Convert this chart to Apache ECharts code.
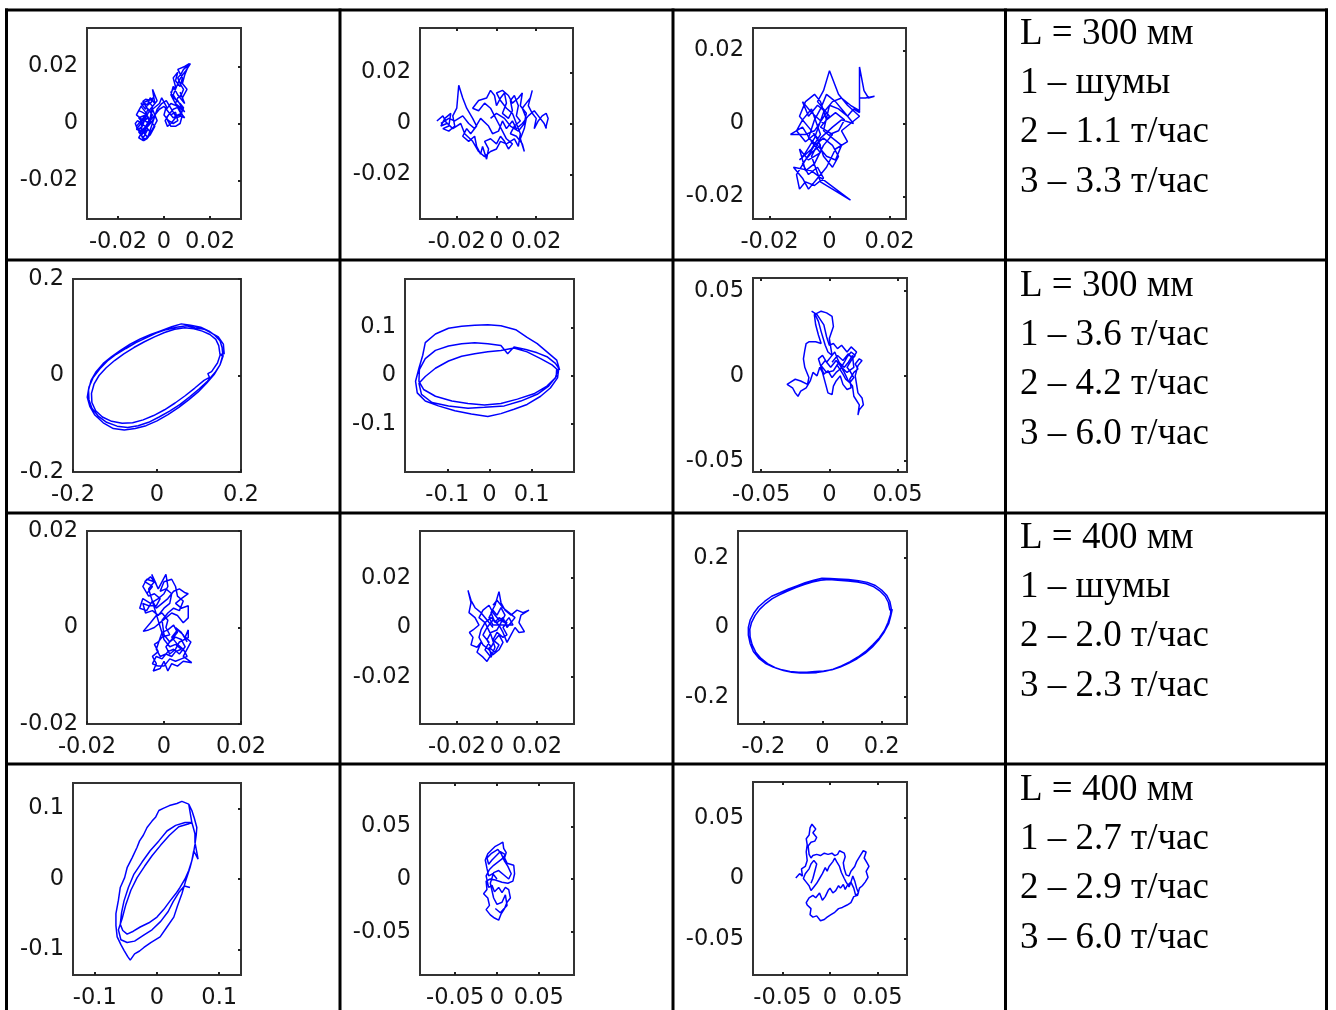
<!DOCTYPE html>
<html>
<head>
<meta charset="utf-8">
<script src="https://cdn.jsdelivr.net/npm/echarts@6/dist/echarts.min.js"></script>
<style>
html,body{margin:0;padding:0;background:#fff;}
#chart{width:1336px;height:1010px;}
</style>
</head>
<body>
<div id="chart"></div>
<script>
// ---- phase-plane trajectories (x, y) for each cell of the table ----

// L = 300 mm, noise
const r1c1 = [[-0.009,0],[-0.011,0.002],[-0.008,0.003],[-0.012,-0.001],[-0.010,-0.004],[-0.007,-0.002],[-0.009,-0.005],[-0.011,-0.003],[-0.006,0],[-0.008,0.004],[-0.010,0.006],[-0.012,0.003],[-0.009,0.001],[-0.007,0.005],[-0.005,0.003],[-0.008,-0.001],[-0.011,-0.005],[-0.009,-0.006],[-0.006,-0.004],[-0.004,-0.001],[-0.007,0.002],[-0.010,0],[-0.012,-0.002],[-0.009,-0.003],[-0.006,0.002],[-0.005,0.006],[-0.007,0.008],[-0.010,0.007],[-0.008,0.005],[-0.006,0.009],[-0.004,0.007],[-0.005,0.012],[-0.003,0.008],[-0.006,0.005],[-0.008,0.002],[-0.010,-0.002],[-0.007,-0.005],[-0.005,-0.002],[-0.003,0.001],[-0.005,0.005],[-0.002,0.007],[-0.001,0.009],[0.001,0.006],[0,0.003],[0.002,0.001],[0.004,0],[0.006,0.001],[0.005,0.004],[0.003,0.003],[0.001,0.005],[0.003,0.007],[0.006,0.006],[0.008,0.003],[0.007,0],[0.005,-0.001],[0.003,-0.001],[0.001,0.002],[0.004,0.005],[0.007,0.006],[0.009,0.004],[0.006,0.008],[0.004,0.009],[0.003,0.011],[0.005,0.013],[0.004,0.016],[0.006,0.018],[0.005,0.015],[0.007,0.013],[0.008,0.016],[0.006,0.019],[0.009,0.020],[0.011,0.021],[0.009,0.017],[0.008,0.014],[0.010,0.012],[0.008,0.009],[0.007,0.011],[0.009,0.007],[0.006,0.010],[0.004,0.013],[0.003,0.010],[0.005,0.007],[0.007,0.004],[0.009,0.002],[0.006,0.003],[0.004,0.002],[0.002,0.004],[0,0.006],[-0.002,0.005],[-0.004,0.003],[-0.006,0.001],
  [-0.0075,0.0005],[-0.0090,0.0015],[-0.0105,0.0005],[-0.0095,-0.0010],[-0.0110,-0.0020],[-0.0100,-0.0035],[-0.0085,-0.0025],[-0.0080,-0.0040],[-0.0095,-0.0050],[-0.0080,-0.0055],[-0.0070,-0.0045],[-0.0060,-0.0030],[-0.0075,-0.0015],[-0.0090,-0.0005],[-0.0115,0.0010],[-0.0125,0.0000],[-0.0118,-0.0015],[-0.0105,-0.0025],[-0.0090,-0.0030],[-0.0072,-0.0010],[-0.0060,0.0010],[-0.0075,0.0030],[-0.0095,0.0040],[-0.0110,0.0045],[-0.0100,0.0060],[-0.0085,0.0070],[-0.0070,0.0065],[-0.0055,0.0075],[-0.0048,0.0090],[-0.0060,0.0082],[-0.0080,0.0085],[-0.0092,0.0078],[-0.0078,0.0058],[-0.0062,0.0045],[-0.0045,0.0040],[-0.0038,0.0025],[-0.0050,0.0010],[-0.0065,-0.0005],[-0.0082,-0.0020],[-0.0098,-0.0042],[-0.0088,-0.0060],[-0.0072,-0.0052],
  [-0.0030,0.0050],[-0.0010,0.0070],[0.0010,0.0080],[0.0025,0.0060],[0.0040,0.0040],[0.0055,0.0020],[0.0070,0.0025],[0.0080,0.0045],[0.0065,0.0060],[0.0050,0.0070],[0.0060,0.0090],[0.0075,0.0100],[0.0085,0.0120],[0.0070,0.0140],[0.0060,0.0160],[0.0075,0.0175],[0.0085,0.0190],[0.0100,0.0200],[0.0115,0.0210],[0.0095,0.0185],[0.0080,0.0170],[0.0065,0.0150],[0.0050,0.0120],[0.0040,0.0100],[0.0055,0.0080],[0.0070,0.0070],[0.0085,0.0055],[0.0075,0.0035],[0.0060,0.0030],[0.0045,0.0015],[0.0030,0.0000],[0.0015,-0.0010],[0.0005,0.0010],[0.0020,0.0030]];

// L = 300 mm, 1.1 t/h
const r1c2 = [[-0.030,0.001],[-0.027,0.003],[-0.025,0],[-0.028,-0.001],[-0.026,0.002],[-0.023,0.004],[-0.024,-0.001],[-0.027,-0.002],[-0.024,-0.003],[-0.021,-0.001],[-0.022,0.003],[-0.020,0.006],[-0.019,0.015],[-0.017,0.010],[-0.015,0.006],[-0.012,0.002],[-0.010,-0.001],[-0.013,-0.004],[-0.015,-0.002],[-0.017,-0.005],[-0.014,-0.007],[-0.011,-0.005],[-0.010,-0.009],[-0.008,-0.012],[-0.007,-0.009],[-0.005,-0.014],[-0.004,-0.010],[-0.006,-0.007],[-0.003,-0.006],[0,-0.008],[0.002,-0.005],[0.004,-0.007],[0.006,-0.010],[0.008,-0.008],[0.005,-0.006],[0.003,-0.003],[0.001,0],[-0.001,0.003],[-0.003,0.006],[-0.006,0.008],[-0.009,0.005],[-0.012,0.006],[-0.009,0.009],[-0.005,0.010],[-0.003,0.013],[-0.001,0.011],[0,0.007],[0.002,0.010],[0.004,0.012],[0.005,0.008],[0.003,0.004],[0.006,0.002],[0.008,0.005],[0.007,0.009],[0.009,0.011],[0.011,0.007],[0.010,0.003],[0.012,0.001],[0.009,-0.001],[0.007,-0.004],[0.010,-0.005],[0.013,-0.008],[0.014,-0.011],[0.012,-0.006],[0.014,-0.002],[0.015,0.002],[0.013,0.006],[0.015,0.008],[0.017,0.010],[0.018,0.013],[0.016,0.007],[0.018,0.004],[0.020,0.002],[0.019,-0.002],[0.021,0.001],[0.023,0.003],[0.025,0.004],[0.026,0.002],[0.025,-0.001],[0.025,-0.002],[0.024,0],[0.022,0.002],[0.019,0.005],[0.016,0.003],[0.013,0],[0.010,-0.002],[0.008,0.001],[0.005,-0.002],[0.003,0.001],[0.001,-0.003],[-0.002,-0.004],[-0.004,-0.001],[-0.008,0.002],[-0.011,-0.002],[-0.014,0],[-0.017,0.003],[-0.021,0.001],[-0.024,0.002],[-0.028,0],
  [-0.026,0.001],[-0.022,-0.002],[-0.018,0],[-0.016,-0.004],[-0.012,-0.007],[-0.009,-0.011],[-0.006,-0.013],[-0.003,-0.011],[0.000,-0.010],[0.002,-0.007],[0.005,-0.008],[0.009,-0.006],[0.011,-0.009],[0.012,-0.004],[0.010,0.000],[0.008,0.004],[0.005,0.006],[0.002,0.009],[0.000,0.012],[0.003,0.013],[0.006,0.011],[0.008,0.008],[0.011,0.010],[0.013,0.012],[0.012,0.007],[0.015,0.004],[0.014,0.000],[0.011,-0.003],[0.007,-0.001],[0.004,0.002],[0.000,0.004],[-0.003,0.002]];

// L = 300 mm, 3.3 t/h
const r1c3 = [[-0.002,0],[-0.006,0.003],[-0.009,0.006],[-0.007,0.002],[-0.004,0.005],[-0.001,0.003],[-0.005,-0.002],[-0.008,-0.003],[-0.013,-0.003],[-0.009,-0.001],[-0.006,-0.005],[-0.003,-0.008],[-0.007,-0.010],[-0.010,-0.007],[-0.008,-0.013],[-0.005,-0.011],[-0.002,-0.006],[0.001,-0.003],[-0.003,-0.001],[0,0.002],[-0.004,0.006],[-0.002,0.009],[0,0.0145],[0.003,0.008],[0.006,0.005],[0.010,0.002],[0.007,0],[0.004,-0.002],[0.006,-0.005],[0.002,-0.007],[-0.001,-0.012],[-0.004,-0.015],[-0.007,-0.018],[-0.009,-0.015],[-0.012,-0.012],[-0.006,-0.013],[0.007,-0.021],[-0.003,-0.016],[-0.006,-0.009],[-0.003,-0.004],[0.001,-0.001],[0.004,0.001],[0.008,0],[0.005,0.003],[0.002,0.006],[-0.001,0.008],[-0.003,0.004],[-0.005,0.001],[-0.007,-0.004],[-0.004,-0.006],[-0.001,-0.009],[0.002,-0.010],[0.004,-0.006],[0.001,-0.004],[-0.002,-0.002],[0,0.005],[0.003,0.004],[0.006,0.002],[0.008,0.004],[0.010,0.003],[0.010,0.0155],[0.0115,0.009],[0.013,0.007],[0.015,0.0075],[0.012,0.007],[0.010,0.007],[0.010,0.0035],[0.007,0.005],[0.004,0.007],[0.001,0.006],[-0.002,0.003],[-0.005,-0.004],[-0.008,-0.008],[-0.010,-0.010],[-0.006,-0.007],[-0.003,-0.003],
  [-0.006,0.004],[-0.009,0.001],[-0.011,-0.002],[-0.008,-0.005],[-0.005,-0.003],[-0.003,-0.006],[-0.006,-0.008],[-0.009,-0.011],[-0.007,-0.014],[-0.004,-0.012],[-0.002,-0.015],[-0.005,-0.017],[-0.008,-0.016],[-0.010,-0.018],[-0.011,-0.014],[-0.008,-0.010],[-0.005,-0.006],[-0.002,-0.004],[0.001,-0.006],[0.003,-0.009],[0.001,-0.012],[-0.002,-0.009],[-0.004,-0.004],[-0.007,-0.001],[-0.010,0.002],[-0.008,0.006],[-0.005,0.008],[-0.003,0.006],[-0.001,0.001],[0.002,0.003],[0.005,0.001],[0.003,-0.002],[0,-0.003]];

// L = 300 mm, 3.6 t/h
const r2c1 = [[0.157,0.040],[0.155,0.058],[0.150,0.072],[0.138,0.083],[0.124,0.092],[0.104,0.100],[0.080,0.104],[0.058,0.107],[0.035,0.101],[0.010,0.093],[-0.015,0.085],[-0.040,0.076],[-0.064,0.065],[-0.087,0.052],[-0.108,0.039],[-0.128,0.025],[-0.145,0.008],[-0.157,-0.010],[-0.163,-0.030],[-0.162,-0.050],[-0.155,-0.068],[-0.140,-0.084],[-0.120,-0.097],[-0.095,-0.105],[-0.070,-0.108],[-0.045,-0.104],[-0.020,-0.097],[0.005,-0.086],[0.030,-0.074],[0.055,-0.060],[0.078,-0.044],[0.100,-0.028],[0.120,-0.012],[0.138,0.006],[0.150,0.022],[0.156,0.040],
  [0.150,0.044],[0.147,0.062],[0.140,0.075],[0.126,0.085],[0.108,0.092],[0.088,0.097],[0.066,0.099],[0.042,0.096],[0.018,0.089],[-0.006,0.080],[-0.030,0.070],[-0.055,0.058],[-0.079,0.045],[-0.101,0.031],[-0.121,0.016],[-0.138,0.000],[-0.150,-0.018],[-0.156,-0.037],[-0.155,-0.056],[-0.146,-0.073],[-0.130,-0.086],[-0.108,-0.095],[-0.083,-0.099],[-0.058,-0.098],[-0.033,-0.092],[-0.008,-0.083],[0.018,-0.071],[0.043,-0.057],[0.067,-0.042],[0.090,-0.026],[0.112,-0.010],[0.125,-0.004],[0.121,0.004],[0.130,0.008],[0.144,0.026],[0.151,0.044],
  [0.160,0.045],[0.158,0.065],[0.146,0.080],[0.130,0.088],[0.112,0.096],[0.090,0.099],[0.070,0.103],[0.046,0.100],[0.022,0.095],[-0.002,0.088],[-0.026,0.078],[-0.050,0.068],[-0.074,0.056],[-0.097,0.044],[-0.118,0.030],[-0.136,0.014],[-0.152,-0.004],[-0.162,-0.024],[-0.166,-0.045],[-0.160,-0.064],[-0.148,-0.082],[-0.128,-0.098],[-0.104,-0.110],[-0.078,-0.113],[-0.052,-0.110],[-0.026,-0.104],[0.000,-0.094],[0.026,-0.081],[0.052,-0.066],[0.076,-0.050],[0.098,-0.034],[0.118,-0.016],[0.136,0.002],[0.150,0.022],[0.158,0.042]];

// L = 300 mm, 4.2 t/h
const r2c2 = [[0.166,0.0115],[0.159,0.032],[0.136,0.049],[0.113,0.066],[0.089,0.079],[0.062,0.095],[0.027,0.103],[-0.004,0.105],[-0.035,0.104],[-0.066,0.102],[-0.097,0.098],[-0.128,0.086],[-0.152,0.068],[-0.158,0.042],[-0.167,0.015],[-0.175,-0.012],[-0.171,-0.036],[-0.152,-0.053],[-0.121,-0.063],[-0.082,-0.073],[-0.043,-0.080],[-0.004,-0.085],[0.027,-0.079],[0.058,-0.070],[0.089,-0.060],[0.121,-0.043],[0.144,-0.026],[0.161,-0.005],[0.164,0.015],
  [0.156,0.025],[0.136,0.039],[0.113,0.047],[0.086,0.054],[0.058,0.059],[0.043,0.045],[0.027,0.062],[-0.004,0.066],[-0.035,0.068],[-0.066,0.066],[-0.097,0.061],[-0.128,0.052],[-0.152,0.035],[-0.166,0.012],[-0.167,-0.012],[-0.156,-0.029],[-0.128,-0.043],[-0.089,-0.053],[-0.051,-0.058],[-0.012,-0.061],[0.027,-0.058],[0.066,-0.049],[0.105,-0.038],[0.136,-0.022],[0.156,-0.005],[0.161,0.012],
  [0.148,0.022],[0.121,0.035],[0.089,0.049],[0.058,0.057],[0.027,0.052],[-0.004,0.049],[-0.035,0.045],[-0.066,0.040],[-0.097,0.030],[-0.128,0.015],[-0.152,-0.002],[-0.167,-0.016],[-0.161,-0.039],[-0.136,-0.056],[-0.097,-0.063],[-0.051,-0.068],[-0.012,-0.066],[0.035,-0.063],[0.074,-0.053],[0.113,-0.039],[0.140,-0.022],[0.158,-0.002],[0.159,0.015]];

// L = 300 mm, 6.0 t/h
const r2c3 = [[0.002,0.008],[0.006,0.012],[0.010,0.009],[0.014,0.013],[0.017,0.010],[0.020,0.014],[0.016,0.017],[0.013,0.014],[0.009,0.018],[0.006,0.016],[0.003,0.019],[0,0.018],[-0.002,0.023],[-0.004,0.030],[-0.009,0.036],[-0.013,0.038],[-0.011,0.037],[-0.008,0.032],[-0.006,0.026],[-0.003,0.018],[-0.001,0.014],[0.002,0.012],[0,0.022],[0.003,0.029],[0.002,0.035],[-0.002,0.037],[-0.006,0.038],[-0.011,0.036],[-0.010,0.030],[-0.008,0.024],[-0.006,0.019],[-0.010,0.020],[-0.015,0.020],[-0.017,0.019],[-0.018,0.015],[-0.019,0.010],[-0.018,0.005],[-0.017,0.003],[-0.015,-0.001],[-0.016,-0.005],[-0.021,-0.003],[-0.025,-0.002],[-0.029,-0.004],[-0.031,-0.005],[-0.027,-0.007],[-0.025,-0.010],[-0.023,-0.012],[-0.021,-0.009],[-0.017,-0.007],[-0.014,-0.003],[-0.012,0.002],[-0.009,0],[-0.007,0.005],[-0.005,0.002],[-0.003,-0.004],[-0.001,-0.010],[0.002,-0.011],[0.003,-0.006],[0.005,-0.003],[0.008,0],[0.010,-0.005],[0.013,-0.008],[0.016,-0.007],[0.015,-0.002],[0.018,0.002],[0.021,0.004],[0.019,0.007],[0.022,0.010],[0.024,0.009],[0.021,0.006],[0.019,0],[0.020,-0.005],[0.021,-0.010],[0.024,-0.013],[0.025,-0.017],[0.022,-0.020],[0.021,-0.023],[0.022,-0.017],[0.018,-0.012],[0.017,-0.006],[0.014,-0.003],[0.011,0.002],[0.008,0.006],[0.005,0.009],[0.001,0.005],[-0.003,0.009],[-0.006,0.006],[-0.002,0.002],[0.003,0.003],[0.007,0.008],[0.011,0.005],[0.014,0.008],[0.017,0.012],[0.018,0.005],[0.013,0.002],[0.009,0.005],
  [0.006,0.010],[0.004,0.014],[0.001,0.011],[-0.002,0.008],[-0.005,0.012],[-0.008,0.010],[-0.006,0.005],[-0.004,0.001],[-0.001,0.003],[0.002,-0.001],[0.005,0.002],[0.008,0.004],[0.011,0.008],[0.013,0.011],[0.016,0.014],[0.019,0.012],[0.016,0.009],[0.013,0.005],[0.015,0.003],[0.018,-0.001],[0.015,-0.004],[0.012,-0.002],[0.010,0.001],[0.006,0.006]];

// L = 400 mm, noise
const r3c1 = [[-0.0045,0.0070],[-0.0030,0.0085],[-0.0050,0.0095],[-0.0035,0.0105],[-0.0020,0.0090],[-0.0032,0.0110],[-0.0015,0.0080],[-0.0005,0.0095],[0.0005,0.0110],[0.0010,0.0085],[0,0.0070],[-0.0015,0.0060],[-0.0035,0.0050],[-0.0055,0.0060],[-0.0063,0.0040],[-0.0045,0.0035],[-0.0030,0.0055],[-0.0020,0.0040],[-0.0005,0.0050],[0.0010,0.0060],[0.0025,0.0075],[0.0040,0.0080],[0.0055,0.0072],[0.0063,0.0070],[0.0045,0.0060],[0.0030,0.0050],[0.0045,0.0040],[0.0063,0.0045],[0.0063,0.0020],[0.0050,0.0010],[0.0035,0.0025],[0.0020,0.0030],[0.0005,0.0020],[-0.0010,0.0010],[-0.0025,0],[-0.0040,-0.0005],[-0.0054,-0.0008],[-0.0035,0.0010],[-0.0020,0.0025],[-0.0005,0.0030],[0.0010,0.0015],[0.0005,0],[0.0015,-0.0015],[-0.0005,-0.0020],[-0.0015,-0.0030],[-0.0025,-0.0035],[-0.0015,-0.0050],[-0.0030,-0.0060],[-0.0020,-0.0075],[-0.0028,-0.0090],[-0.0010,-0.0085],[0,-0.0070],[0.0010,-0.0090],[0.0020,-0.0075],[0.0035,-0.0080],[0.0050,-0.0070],[0.0072,-0.0073],[0.0050,-0.0060],[0.0060,-0.0045],[0.0070,-0.0030],[0.0055,-0.0020],[0.0063,-0.0005],[0.0063,-0.0021],[0.0040,-0.0030],[0.0030,-0.0045],[0.0015,-0.0055],[0.0005,-0.0040],[0.0020,-0.0025],[0.0035,-0.0010],[0.0025,0.0005],[0.0010,-0.0005],[-0.0005,-0.0010],[-0.0020,-0.0045],[-0.0010,-0.0060],[0.0005,-0.0055],[0.0020,-0.0060],[0.0030,-0.0050],[0.0045,-0.0045],[0.0030,-0.0035],[0.0015,-0.0040],[0,-0.0025],
  [-0.0040,0.0080],[-0.0025,0.0095],[-0.0045,0.0100],[-0.0055,0.0085],[-0.0040,0.0065],[-0.0025,0.0070],[-0.0010,0.0060],[-0.0020,0.0045],[-0.0040,0.0045],[-0.0055,0.0050],[-0.0048,0.0030],[-0.0030,0.0035],[-0.0015,0.0025],[0.0000,0.0040],[0.0015,0.0050],[0.0020,0.0070],[0.0005,0.0080],[-0.0010,0.0075],[0.0000,0.0095],[0.0020,0.0100],[0.0030,0.0085],[0.0035,0.0065],[0.0050,0.0055],[0.0040,0.0035],[0.0025,0.0040],[0.0010,0.0030],[-0.0005,0.0015],
  [0.0000,-0.0015],[0.0015,-0.0030],[0.0030,-0.0020],[0.0045,-0.0025],[0.0055,-0.0040],[0.0040,-0.0055],[0.0025,-0.0045],[0.0010,-0.0050],[-0.0005,-0.0065],[-0.0020,-0.0060],[-0.0030,-0.0075],[-0.0015,-0.0080],[0.0000,-0.0080],[0.0015,-0.0065],[0.0030,-0.0070],[0.0045,-0.0065],[0.0060,-0.0060],[0.0050,-0.0045],[0.0035,-0.0035],[0.0020,-0.0020],[0.0035,-0.0005],[0.0050,-0.0015],[0.0060,-0.0030],[0.0045,-0.0010],[0.0030,0.0000]];

// L = 400 mm, 2.0 t/h
const r3c2 = [[-0.002,0],[-0.005,0.003],[-0.008,0.006],[-0.011,0.008],[-0.013,0.011],[-0.0145,0.015],[-0.013,0.010],[-0.014,0.006],[-0.011,0.004],[-0.009,0.001],[-0.012,-0.001],[-0.0138,-0.002],[-0.012,-0.004],[-0.013,-0.007],[-0.010,-0.008],[-0.008,-0.006],[-0.010,-0.010],[-0.007,-0.012],[-0.005,-0.0137],[-0.003,-0.011],[-0.004,-0.008],[-0.001,-0.010],[0.001,-0.007],[-0.002,-0.005],[0,-0.002],[0.003,-0.004],[0.005,-0.003],[0.003,0],[0.005,0.002],[0.001,0.004],[-0.001,0.002],[-0.003,0.006],[-0.001,0.009],[0.001,0.0145],[0.002,0.010],[0.004,0.007],[0.007,0.005],[0.010,0.007],[0.013,0.006],[0.016,0.007],[0.012,0.005],[0.011,0.002],[0.0137,-0.0017],[0.011,-0.002],[0.009,0],[0.007,-0.003],[0.005,-0.006],[0.003,-0.002],[0.001,0.001],[-0.002,0.003],[-0.005,0],[-0.007,-0.003],[-0.004,-0.006],[-0.006,-0.009],[-0.003,-0.012],[-0.001,-0.008],[-0.003,-0.003],[-0.006,0.002],[-0.009,0.004],[-0.007,0.007],[-0.004,0.009],[-0.002,0.006],[0.001,0.003],[0.004,0.002],[0.006,0.004],[0.008,0.001],
  [-0.002,0.001],[-0.004,0.004],[-0.002,0.007],[0,0.005],[0.002,0.008],[0.004,0.005],[0.002,0.002],[0,-0.001],[-0.003,-0.002],[-0.005,-0.005],[-0.003,-0.008],[-0.001,-0.005],[0.001,-0.003],[0.003,-0.006],[0.001,-0.009],[-0.002,-0.011],[-0.004,-0.009],[-0.007,-0.007],[-0.009,-0.004],[-0.008,-0.001],[-0.006,0.002],[-0.003,0.004],[0,0.002],[0.003,0.004],[0.005,0.000],[0.007,0.002],[0.009,0.004],[0.006,0.006],[0.003,0.008],[0.000,0.011],[-0.002,0.009]];

// L = 400 mm, 2.3 t/h
const r3c3 = [[0.233,0.054],[0.228,0.075],[0.218,0.092],[0.200,0.108],[0.179,0.121],[0.152,0.130],[0.122,0.135],[0.088,0.138],[0.054,0.140],[0.026,0.141],[-0.002,0.142],[-0.030,0.136],[-0.059,0.129],[-0.087,0.120],[-0.115,0.111],[-0.144,0.100],[-0.172,0.090],[-0.196,0.075],[-0.217,0.059],[-0.233,0.041],[-0.245,0.021],[-0.251,0.000],[-0.251,-0.022],[-0.245,-0.046],[-0.234,-0.069],[-0.216,-0.088],[-0.194,-0.103],[-0.167,-0.114],[-0.138,-0.122],[-0.110,-0.127],[-0.081,-0.129],[-0.053,-0.129],[-0.025,-0.127],[0.004,-0.125],[0.032,-0.122],[0.060,-0.114],[0.088,-0.103],[0.117,-0.090],[0.145,-0.074],[0.169,-0.056],[0.190,-0.036],[0.209,-0.013],[0.224,0.011],[0.231,0.033],[0.236,0.052],
  [0.228,0.050],[0.223,0.072],[0.212,0.090],[0.196,0.104],[0.174,0.117],[0.148,0.126],[0.118,0.131],[0.086,0.134],[0.052,0.136],[0.022,0.138],[-0.006,0.136],[-0.034,0.131],[-0.062,0.124],[-0.090,0.115],[-0.118,0.105],[-0.146,0.094],[-0.170,0.083],[-0.192,0.069],[-0.212,0.053],[-0.228,0.035],[-0.240,0.015],[-0.246,-0.005],[-0.245,-0.027],[-0.238,-0.050],[-0.226,-0.071],[-0.208,-0.089],[-0.186,-0.104],[-0.160,-0.116],[-0.132,-0.124],[-0.104,-0.129],[-0.076,-0.131],[-0.048,-0.131],[-0.020,-0.130],[0.008,-0.126],[0.036,-0.120],[0.064,-0.111],[0.092,-0.099],[0.120,-0.085],[0.146,-0.069],[0.170,-0.050],[0.192,-0.030],[0.210,-0.008],[0.222,0.015],[0.230,0.037],[0.232,0.054]];

// L = 400 mm, 2.7 t/h
const r4c1 = [[0.051,0.106],[0.040,0.110],[0.032,0.107],[0.020,0.104],[0.010,0.100],[0.003,0.097],[-0.002,0.088],[-0.008,0.082],[-0.016,0.073],[-0.022,0.062],[-0.028,0.054],[-0.032,0.045],[-0.040,0.030],[-0.048,0.016],[-0.052,0.002],[-0.059,-0.012],[-0.062,-0.030],[-0.066,-0.049],[-0.066,-0.066],[-0.064,-0.082],[-0.058,-0.093],[-0.053,-0.101],[-0.047,-0.110],[-0.043,-0.115],[-0.036,-0.106],[-0.028,-0.102],[-0.021,-0.097],[-0.010,-0.090],[0.005,-0.082],[0.016,-0.068],[0.027,-0.054],[0.033,-0.038],[0.040,-0.021],[0.046,-0.003],[0.053,0.016],[0.058,0.033],[0.061,0.049],[0.063,0.062],[0.064,0.073],[0.060,0.086],[0.056,0.097],[0.051,0.106],
  [0.056,0.080],[0.045,0.080],[0.030,0.076],[0.016,0.068],[0.003,0.054],[-0.011,0.040],[-0.024,0.024],[-0.037,0.007],[-0.046,-0.012],[-0.053,-0.031],[-0.057,-0.048],[-0.059,-0.064],[-0.055,-0.073],[-0.048,-0.078],[-0.038,-0.074],[-0.027,-0.068],[-0.013,-0.062],[0.000,-0.054],[0.011,-0.043],[0.021,-0.031],[0.030,-0.021],[0.037,-0.012],[0.045,0.000],[0.051,0.012],[0.056,0.026],[0.059,0.040],[0.066,0.028],[0.061,0.052],[0.061,0.064],[0.058,0.074],[0.056,0.080],
  [0.050,0.078],[0.035,0.074],[0.020,0.062],[0.006,0.048],[-0.008,0.033],[-0.020,0.018],[-0.032,0.002],[-0.042,-0.016],[-0.050,-0.036],[-0.056,-0.056],[-0.062,-0.072],[-0.058,-0.086],[-0.048,-0.090],[-0.036,-0.088],[-0.022,-0.080],[-0.008,-0.072],[0.006,-0.060],[0.018,-0.046],[0.026,-0.032],[0.036,-0.018],[0.044,-0.010],[0.053,-0.012]];

// L = 400 mm, 2.9 t/h
const r4c2 = [[0,0],[-0.005,0.005],[-0.010,0.003],[-0.012,0.010],[-0.014,0.018],[-0.011,0.024],[-0.006,0.028],[-0.002,0.031],[0.003,0.033],[0.007,0.035],[0.008,0.029],[0.011,0.025],[0.009,0.020],[0.012,0.015],[0.020,0.013],[0.021,0.005],[0.019,-0.002],[0.013,-0.004],[0.006,-0.003],[-0.002,-0.001],[-0.008,0],[-0.013,-0.002],[-0.012,-0.010],[-0.016,-0.014],[-0.011,-0.018],[-0.009,-0.025],[-0.013,-0.029],[-0.008,-0.034],[-0.003,-0.037],[0.002,-0.039],[0.005,-0.033],[0.009,-0.028],[0.012,-0.022],[0.016,-0.018],[0.014,-0.010],[0.010,-0.008],[0.006,-0.013],[0.002,-0.008],[-0.003,-0.012],[-0.006,-0.006],[-0.010,-0.008],[-0.013,0.003],[-0.009,0.009],[-0.004,0.013],[0.001,0.016],[0.006,0.019],[0.010,0.023],[0.004,0.026],[-0.001,0.022],[-0.006,0.018],[-0.010,0.014],[-0.012,0.020],[-0.007,0.024],[0.001,0.028],[0.005,0.024],[0.009,0.017],[0.013,0.012],[0.017,0.005],[0.014,0],[0.008,0.004],[0.002,0.008],[-0.004,0.006],[-0.008,-0.004],[-0.004,-0.018],[0,-0.024],[0.006,-0.022],[0.010,-0.015],[0.012,-0.025],[0.004,-0.032],[-0.002,-0.028]];

// L = 400 mm, 6.0 t/h
const r4c3 = [[-0.036,0.0005],[-0.032,0.004],[-0.029,0.002],[-0.030,0.008],[-0.026,0.010],[-0.024,0.015],[-0.025,0.022],[-0.024,0.028],[-0.025,0.033],[-0.022,0.036],[-0.021,0.042],[-0.019,0.045],[-0.017,0.044],[-0.015,0.041],[-0.018,0.038],[-0.014,0.034],[-0.016,0.031],[-0.020,0.030],[-0.023,0.027],[-0.022,0.020],[-0.020,0.017],[-0.018,0.019],[-0.014,0.020],[-0.010,0.019],[-0.006,0.021],[-0.002,0.020],[0.002,0.021],[0.005,0.019],[0.008,0.020],[0.010,0.023],[0.012,0.022],[0.015,0.021],[0.016,0.018],[0.014,0.013],[0.015,0.008],[0.017,0.003],[0.020,0.002],[0.022,0.006],[0.026,0.010],[0.028,0.014],[0.031,0.018],[0.035,0.023],[0.038,0.022],[0.036,0.017],[0.039,0.013],[0.041,0.010],[0.038,0.006],[0.040,0.001],[0.037,-0.003],[0.034,-0.006],[0.031,-0.008],[0.029,-0.014],[0.025,-0.015],[0.022,-0.020],[0.018,-0.022],[0.013,-0.024],[0.009,-0.025],[0.005,-0.028],[0.001,-0.030],[-0.003,-0.032],[-0.006,-0.034],[-0.010,-0.035],[-0.014,-0.031],[-0.018,-0.032],[-0.021,-0.030],[-0.020,-0.025],[-0.024,-0.022],[-0.025,-0.020],[-0.022,-0.016],[-0.018,-0.014],[-0.015,-0.016],[-0.011,-0.012],[-0.008,-0.018],[-0.005,-0.015],[-0.002,-0.010],[0,-0.008],[0.003,-0.012],[0.006,-0.010],[0.009,-0.006],[0.011,-0.008],[0.014,-0.005],[0.016,-0.009],[0.018,-0.006],[0.022,-0.003],[0.024,0.002],[0.026,-0.002],[0.028,-0.008],[0.030,-0.012],[0.027,-0.014],[0.025,-0.008],[0.022,-0.003],[0.020,-0.007],[0.017,-0.003],[0.015,0],[0.012,0.005],[0.010,0.010],[0.007,0.014],[0.005,0.017],[0.003,0.014],[-0.001,0.010],[-0.003,0.006],[-0.005,0.009],[-0.008,0.004],[-0.011,0],[-0.014,-0.004],[-0.017,-0.007],[-0.020,-0.010],[-0.022,-0.006],[-0.025,-0.003],[-0.028,0],[-0.026,0.004],[-0.022,0.008],[-0.020,0.012],[-0.017,0.015],[-0.014,0.012],[-0.016,0.006],[-0.018,0],[-0.020,-0.004]];

// ---- tick values ----
const ticks002 = [-0.02, 0, 0.02];
const ticks005 = [-0.05, 0, 0.05];
const ticks01 = [-0.1, 0, 0.1];
const ticks02 = [-0.2, 0, 0.2];

// ---- legend text of the right-hand column ----
const captions = [
  ['L = 300 мм', '1 – шумы', '2 – 1.1 т/час', '3 – 3.3 т/час'],
  ['L = 300 мм', '1 – 3.6 т/час', '2 – 4.2 т/час', '3 – 6.0 т/час'],
  ['L = 400 мм', '1 – шумы', '2 – 2.0 т/час', '3 – 2.3 т/час'],
  ['L = 400 мм', '1 – 2.7 т/час', '2 – 2.9 т/час', '3 – 6.0 т/час']
];

// ---- layout of the 12 small axes boxes ----
const panels = [
  { data: r1c1, box: [87, 28, 154, 191],  xr: [-0.0335, 0.0335], yr: [-0.0335, 0.0335], xt: ticks002, yt: ticks002, top: false },
  { data: r1c2, box: [420, 28, 153, 191], xr: [-0.0385, 0.0385], yr: [-0.0375, 0.0375], xt: ticks002, yt: ticks002, top: true },
  { data: r1c3, box: [753, 28, 153, 191], xr: [-0.0255, 0.0255], yr: [-0.0262, 0.0262], xt: ticks002, yt: ticks002, top: false },
  { data: r2c1, box: [73, 279, 168, 193], xr: [-0.2, 0.2], yr: [-0.2, 0.2], xt: ticks02, yt: ticks02, top: false },
  { data: r2c2, box: [405, 279, 169, 193], xr: [-0.2, 0.2], yr: [-0.2, 0.2], xt: ticks01, yt: ticks01, top: false },
  { data: r2c3, box: [753, 278, 154, 194], xr: [-0.056, 0.057], yr: [-0.0565, 0.0575], xt: ticks005, yt: ticks005, top: true },
  { data: r3c1, box: [87, 531, 154, 193], xr: [-0.02, 0.02], yr: [-0.02, 0.02], xt: ticks002, yt: ticks002, top: false },
  { data: r3c2, box: [420, 531, 154, 193], xr: [-0.0385, 0.0385], yr: [-0.039, 0.039], xt: ticks002, yt: ticks002, top: false },
  { data: r3c3, box: [738, 531, 169, 193], xr: [-0.286, 0.286], yr: [-0.278, 0.278], xt: ticks02, yt: ticks02, top: false },
  { data: r4c1, box: [73, 783, 168, 192], xr: [-0.135, 0.135], yr: [-0.136, 0.136], xt: ticks01, yt: ticks01, top: false },
  { data: r4c2, box: [420, 783, 154, 192], xr: [-0.092, 0.092], yr: [-0.091, 0.091], xt: ticks005, yt: ticks005, top: true },
  { data: r4c3, box: [753, 782, 154, 193], xr: [-0.081, 0.081], yr: [-0.08, 0.08], xt: ticks005, yt: ticks005, top: true }
];

const AX_FONT = 'DejaVu Sans';
const AX_SIZE = 22.5;
const AX_COLOR = '#151515';
const BOX_COLOR = '#333';
const TRACE_COLOR = '#0000ff';

const grids = [], xAxes = [], yAxes = [], series = [];

panels.forEach((p, i) => {
  const [l, t, w, h] = p.box;
  grids.push({
    left: l, top: t, width: w, height: h,
    show: true, borderColor: BOX_COLOR, borderWidth: 2, backgroundColor: '#fff'
  });
  const hiddenLine = { show: false, onZero: false };
  const tickStyle = { show: true, inside: true, length: 3, lineStyle: { color: '#222', width: 2 } };
  const label = { fontFamily: AX_FONT, fontSize: AX_SIZE, color: AX_COLOR, formatter: v => String(v) };

  const xi = xAxes.length;
  xAxes.push({
    gridIndex: i, type: 'value', position: 'bottom', min: p.xr[0], max: p.xr[1],
    axisLine: hiddenLine, splitLine: { show: false },
    axisTick: Object.assign({ customValues: p.xt }, tickStyle),
    axisLabel: Object.assign({ customValues: p.xt, margin: 12 }, label)
  });
  if (p.top) {
    xAxes.push({
      gridIndex: i, type: 'value', position: 'top', min: p.xr[0], max: p.xr[1],
      axisLine: hiddenLine, splitLine: { show: false },
      axisTick: Object.assign({ customValues: p.xt }, tickStyle),
      axisLabel: { show: false }
    });
  }
  const yi = yAxes.length;
  yAxes.push({
    gridIndex: i, type: 'value', position: 'left', min: p.yr[0], max: p.yr[1],
    axisLine: hiddenLine, splitLine: { show: false },
    axisTick: { show: false },
    axisLabel: Object.assign({ customValues: p.yt, margin: 9, padding: [3, 0, 0, 0] }, label)
  });
  yAxes.push({
    gridIndex: i, type: 'value', position: 'right', min: p.yr[0], max: p.yr[1],
    axisLine: hiddenLine, splitLine: { show: false },
    axisTick: Object.assign({ customValues: p.yt }, tickStyle),
    axisLabel: { show: false }
  });
  series.push({
    type: 'line', xAxisIndex: xi, yAxisIndex: yi, data: p.data,
    showSymbol: false, symbol: 'none', silent: true,
    lineStyle: { color: TRACE_COLOR, width: 1.5 }
  });
});

// ---- table rules ----
const RULE = 3;
const colX = [6.5, 340, 673, 1005.5, 1326.5];
const rowY = [10, 260, 513, 764];
const graphics = [];
colX.forEach(x => graphics.push({
  type: 'line', silent: true, z: 100,
  shape: { x1: x, y1: 8.5, x2: x, y2: 1012 },
  style: { stroke: '#000', lineWidth: RULE }
}));
rowY.forEach(y => graphics.push({
  type: 'line', silent: true, z: 100,
  shape: { x1: 5, y1: y, x2: 1328, y2: y },
  style: { stroke: '#000', lineWidth: RULE }
}));

// ---- right-hand column text ----
const TEXT_TOP = [34, 286, 538, 790];
const LINE_STEP = 49.3;
captions.forEach((lines, r) => {
  lines.forEach((s, k) => {
    graphics.push({
      type: 'text', silent: true, z: 100,
      style: {
        text: s, x: 1020, y: TEXT_TOP[r] + k * LINE_STEP,
        fill: '#000', font: '37px "Liberation Serif"',
        textAlign: 'left', textVerticalAlign: 'middle', align: 'left', verticalAlign: 'middle'
      }
    });
  });
});

const chart = echarts.init(document.getElementById('chart'), null, { renderer: 'canvas' });
chart.setOption({
  animation: false,
  backgroundColor: '#fff',
  grid: grids,
  xAxis: xAxes,
  yAxis: yAxes,
  series: series,
  graphic: graphics
});
</script>
</body>
</html>
